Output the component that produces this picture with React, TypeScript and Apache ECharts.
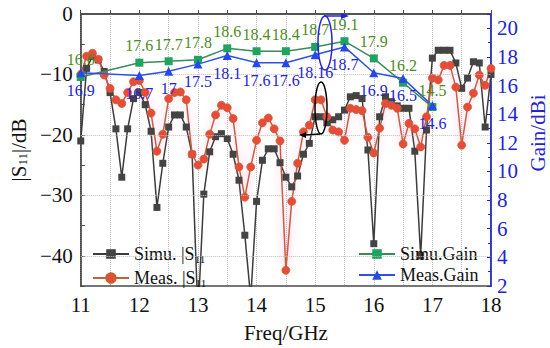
import React, { useEffect, useRef } from "react";
import * as echarts from "echarts";

const freqs = [
  11.0, 11.1, 11.2, 11.3, 11.4, 11.5, 11.6, 11.7, 11.8, 11.9,
  12.0, 12.1, 12.2, 12.3, 12.4, 12.5, 12.6, 12.7, 12.8, 12.9,
  13.0, 13.1, 13.2, 13.3, 13.4, 13.5, 13.6, 13.7, 13.8, 13.9,
  14.0, 14.1, 14.2, 14.3, 14.4, 14.5, 14.6, 14.7, 14.8, 14.9,
  15.0, 15.1, 15.2, 15.3, 15.4, 15.5, 15.6, 15.7, 15.8, 15.9,
  16.0, 16.1, 16.2, 16.3, 16.4, 16.5, 16.6, 16.7, 16.8, 16.9,
  17.0, 17.1, 17.2, 17.3, 17.4, 17.5, 17.6, 17.7, 17.8, 17.9,
  18.0,
];

const simuS11 = [
  -21, -9, -7, -7.6, -9.5, -13, -19, -27, -19, -14,
  -13, -15, -19.4, -32, -24.7, -18.7, -16.7, -16.7, -18.7, -23.2,
  -50, -29.8, -22.8, -20.3, -19.8, -20.6, -23.2, -27.5, -36.6, -47,
  -31, -24.2, -22.3, -22.3, -24.6, -27, -28.6, -26.8, -23.2, -21.4,
  -17, -17, -18, -17.5, -17, -15.9, -13.7, -13.5, -14, -22.5,
  -38, -17, -13.7, -14.5, -15.2, -15.6, -15.6, -22.7, -40, -19.2,
  -7.3, -6, -6, -6, -8.1, -12.3, -10.6, -7.9, -8.1, -18.7,
  -10,
];

const measS11 = [
  -10, -7, -6.5, -7.5, -10.1, -12.3, -14.2, -14.8, -13, -11.2,
  -11, -13, -16.4, -22.7, -19.9, -14, -13, -12.9, -14.2, -23.2,
  -25, -24, -19.9, -16.7, -15.1, -15.5, -17.3, -25.3, -30.3, -25.3,
  -20.9, -18, -17.2, -19, -21, -42.4, -31, -24.7, -19.5, -18.4,
  -14.2, -14.2, -17, -19.2, -19.5, -20.9, -15.6, -15.8, -16, -20.4,
  -23, -18.9, -14.8, -15.1, -15.6, -21.5, -18.1, -19, -22, -17,
  -10.6, -10.9, -8.5, -8.5, -12.1, -21.7, -15.4, -13.1, -10.1, -11.8,
  -9,
];

const gainFreqs = [11, 12, 12.5, 13, 13.5, 14, 14.5, 15, 15.5, 16, 16.5, 17];
const simuGain = [16.6, 17.6, 17.7, 17.8, 18.6, 18.4, 18.4, 18.7, 19.1, 17.9, 16.2, 14.5];
const measGain = [16.9, 16.7, 17, 17.5, 18.1, 17.6, 17.6, 18.16, 18.7, 16.9, 16.5, 14.6];

const s11GridLevels = [-10, -20, -30, -40];

const FONT = "'Times New Roman', 'Liberation Serif', serif";
const BLUE = "#2424d0";
const AXIS_GRAY = "#4a4a4a";

const pair = (xs: number[], ys: number[]) => xs.map((x, i) => [x, ys[i]]);

export default function App() {
  const ref = useRef<HTMLDivElement>(null);
  useEffect(() => {
    if (!ref.current) return;
    const chart = echarts.init(ref.current, null, { renderer: "svg" });
    const subRich = {
      sub: { fontSize: 11, fontFamily: FONT, verticalAlign: "bottom", lineHeight: 12 },
    };
    chart.setOption({
      animation: false,
      textStyle: { fontFamily: FONT },
      grid: {
        left: 75,
        right: 59,
        top: 14,
        bottom: 62,
        show: true,
        borderColor: AXIS_GRAY,
        borderWidth: 1.5,
        backgroundColor: "transparent",
      },
      xAxis: {
        type: "value",
        min: 11,
        max: 18,
        interval: 0.5,
        name: "Freq/GHz",
        nameLocation: "middle",
        nameGap: 36,
        nameTextStyle: { fontFamily: FONT, fontSize: 21, color: "#111" },
        axisLine: { lineStyle: { color: AXIS_GRAY, width: 1.5 } },
        axisTick: { inside: true, length: 4, lineStyle: { color: AXIS_GRAY } },
        axisLabel: {
          fontFamily: FONT,
          fontSize: 21,
          color: "#111",
          margin: 8,
          formatter: (v: number) => (Number.isInteger(v) ? String(v) : ""),
        },
        splitLine: { show: true, lineStyle: { type: "dotted", color: "#bdbdbd", width: 1 } },
      },
      yAxis: [
        {
          type: "value",
          min: -45,
          max: 0,
          interval: 5,
          position: "left",
          name: "|S{sub|11}|/dB",
          nameLocation: "middle",
          nameGap: 46,
          nameRotate: 90,
          nameTextStyle: {
            fontFamily: FONT,
            fontSize: 21,
            color: "#111",
            rich: { sub: { fontSize: 13, fontFamily: FONT, verticalAlign: "bottom", lineHeight: 12 } },
          },
          axisLine: { show: true, lineStyle: { color: AXIS_GRAY, width: 1.5 } },
          axisTick: { inside: true, length: 4, lineStyle: { color: AXIS_GRAY } },
          axisLabel: {
            fontFamily: FONT,
            fontSize: 21,
            color: "#111",
            margin: 8,
            formatter: (v: number) =>
              v % 10 !== 0 ? "" : v === 0 ? "0" : "\u2212" + Math.abs(v),
          },
          splitLine: { show: false },
        },
        {
          type: "value",
          min: 2,
          max: 21,
          interval: 2,
          position: "right",
          axisLine: { show: true, lineStyle: { color: BLUE, width: 1.5 } },
          axisTick: { inside: true, length: 4, lineStyle: { color: BLUE } },
          minorTick: { show: true, splitNumber: 2, length: 3, lineStyle: { color: BLUE } },
          axisLabel: {
            fontFamily: FONT,
            fontSize: 21,
            color: BLUE,
            margin: 6,
            formatter: (v: number) => (v > 20 ? "" : String(v)),
          },
          splitLine: { show: false },
        },
      ],
      legend: [
        {
          left: 87,
          top: 239,
          orient: "vertical",
          itemWidth: 36,
          itemHeight: 12,
          itemGap: 4,
          data: ["Simu. |S11", "Meas. |S11"],
          formatter: (name: string) => name.replace("S11", "S{sub|11}"),
          textStyle: { fontFamily: FONT, fontSize: 18, color: "#111", lineHeight: 20, rich: subRich },
        },
        {
          left: 353,
          top: 240,
          orient: "vertical",
          itemWidth: 36,
          itemHeight: 12,
          itemGap: 3,
          data: ["Simu.Gain", "Meas.Gain"],
          textStyle: { fontFamily: FONT, fontSize: 18, color: "#111" },
        },
      ],
      series: [
        {
          name: "Simu. |S11",
          type: "line",
          yAxisIndex: 0,
          data: pair(freqs, simuS11),
          symbol: "rect",
          symbolSize: 7,
          lineStyle: { color: "#3c3c3c", width: 1.5 },
          itemStyle: { color: "#444444" },
          markLine: {
            silent: true,
            symbol: "none",
            label: { show: false },
            lineStyle: { type: "dotted", color: "#bdbdbd", width: 1 },
            data: s11GridLevels.map((v) => ({ yAxis: v })),
          },
        },
        {
          name: "Meas. |S11",
          type: "line",
          yAxisIndex: 0,
          data: pair(freqs, measS11),
          symbol: "circle",
          symbolSize: 8,
          lineStyle: {
            color: "#c2603c",
            width: 1.5,
            shadowColor: "rgba(255,100,170,0.6)",
            shadowBlur: 8,
          },
          itemStyle: { color: "#ea4a3a", borderColor: "#c0642e", borderWidth: 0.8 },
        },
        {
          name: "Simu.Gain",
          type: "line",
          yAxisIndex: 1,
          data: pair(gainFreqs, simuGain),
          symbol: "rect",
          symbolSize: 8,
          lineStyle: { color: "#3a8a5c", width: 1.5 },
          itemStyle: { color: "#1fa35e" },
          label: {
            show: true,
            position: "top",
            distance: 5,
            fontFamily: FONT,
            fontSize: 16,
            color: "#4f8a1e",
            formatter: (p: any) => String(p.value[1]),
          },
          z: 5,
        },
        {
          name: "Meas.Gain",
          type: "line",
          yAxisIndex: 1,
          data: pair(gainFreqs, measGain),
          symbol: "triangle",
          symbolSize: 9,
          lineStyle: { color: "#3050e0", width: 1.5 },
          itemStyle: { color: "#2648e6" },
          label: {
            show: true,
            position: "bottom",
            distance: 5,
            fontFamily: FONT,
            fontSize: 16,
            color: BLUE,
            formatter: (p: any) => String(p.value[1]),
          },
          z: 5,
        },
      ],
      graphic: [
        {
          type: "text",
          x: 538,
          y: 133,
          rotation: Math.PI / 2,
          style: {
            text: "Gain/dBi",
            fill: BLUE,
            fontFamily: FONT,
            fontSize: 21,
            textAlign: "center",
            textVerticalAlign: "middle",
          },
        },
        {
          type: "ellipse",
          shape: { cx: 321, cy: 108, rx: 6, ry: 26 },
          style: { fill: "none", stroke: "#000", lineWidth: 1.5 },
          z: 10,
        },
        {
          type: "polyline",
          shape: { points: [[320, 134], [305, 135]] },
          style: { stroke: "#000", lineWidth: 1.5, fill: "none" },
          z: 10,
        },
        {
          type: "polygon",
          shape: { points: [[299, 135], [306, 132], [306, 138]] },
          style: { fill: "#000" },
          z: 10,
        },
        {
          type: "ellipse",
          shape: { cx: 325, cy: 43, rx: 7, ry: 27 },
          style: { fill: "none", stroke: BLUE, lineWidth: 1.5 },
          z: 10,
        },
        {
          type: "polyline",
          shape: { points: [[324, 16], [342, 16]] },
          style: { stroke: BLUE, lineWidth: 1.5, fill: "none" },
          z: 10,
        },
        {
          type: "polygon",
          shape: { points: [[349, 16], [341, 13], [341, 19]] },
          style: { fill: BLUE },
          z: 10,
        },
      ],
    });
    return () => chart.dispose();
  }, []);
  return (
    <div
      ref={ref}
      style={{ position: "fixed", left: 0, top: 0, width: 550, height: 348, background: "#fff" }}
    />
  );
}
